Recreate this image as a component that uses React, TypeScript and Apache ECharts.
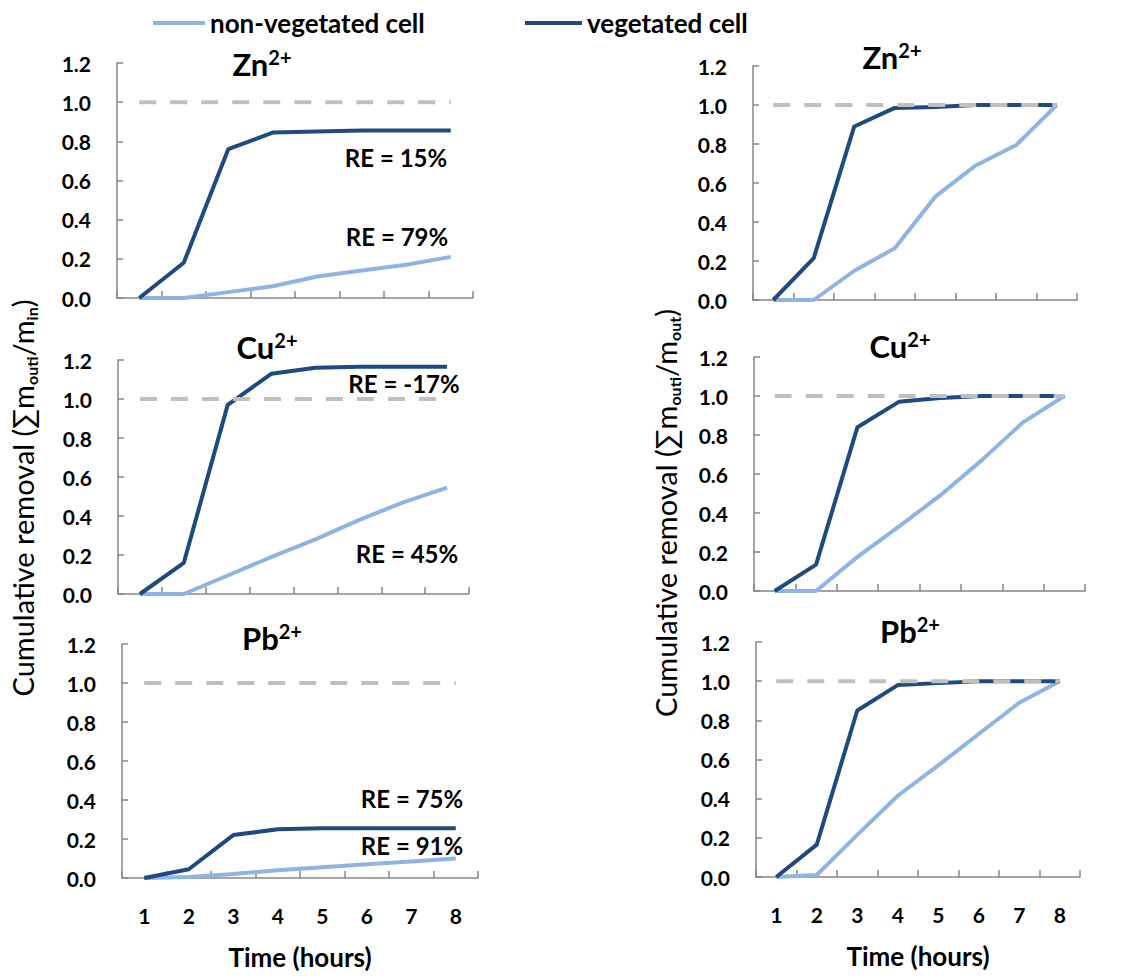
import React, { useEffect, useRef } from "react";
import * as echarts from "echarts";

const hours = ["1", "2", "3", "4", "5", "6", "7", "8"];
const yTicks = [0, 0.2, 0.4, 0.6, 0.8, 1.0, 1.2];

const leftZnNon = [0, 0, 0.03, 0.06, 0.11, 0.14, 0.17, 0.21];
const leftZnVeg = [0, 0.18, 0.76, 0.845, 0.85, 0.855, 0.855, 0.855];
const leftCuNon = [0, 0, 0.095, 0.19, 0.28, 0.38, 0.47, 0.545];
const leftCuVeg = [0, 0.16, 0.97, 1.13, 1.16, 1.165, 1.165, 1.165];
const leftPbNon = [0, 0.005, 0.02, 0.04, 0.055, 0.07, 0.085, 0.1];
const leftPbVeg = [0, 0.045, 0.22, 0.25, 0.255, 0.255, 0.255, 0.255];
const rightZnNon = [0, 0, 0.15, 0.265, 0.53, 0.69, 0.795, 1.0];
const rightZnVeg = [0, 0.215, 0.89, 0.985, 0.99, 1.0, 1.0, 1.0];
const rightCuNon = [0, 0, 0.175, 0.33, 0.49, 0.67, 0.865, 1.0];
const rightCuVeg = [0, 0.135, 0.84, 0.97, 0.99, 1.0, 1.0, 1.0];
const rightPbNon = [0, 0.01, 0.215, 0.415, 0.57, 0.73, 0.89, 1.0];
const rightPbVeg = [0, 0.165, 0.85, 0.98, 0.99, 1.0, 1.0, 1.0];
const reference = [1, 1, 1, 1, 1, 1, 1, 1];

const seriesNames = ["non-vegetated cell", "vegetated cell"];
const panelTitles = [
  ["Zn", "2+"], ["Cu", "2+"], ["Pb", "2+"],
  ["Zn", "2+"], ["Cu", "2+"], ["Pb", "2+"],
];
const reLabels = [
  "RE = 15%", "RE = 79%", "RE = -17%", "RE = 45%", "RE = 75%", "RE = 91%",
];
const xAxisTitle = "Time (hours)";

const FONT = "Lato";
const LIGHT = "#8DB4E2";
const DARK = "#1F4A80";
const REF = "#BFBFBF";
const AXIS = "#868686";

const panels = [
  { grid: { left: 117, top: 63, width: 356, height: 235 }, non: leftZnNon, veg: leftZnVeg, bottom: false },
  { grid: { left: 118, top: 360, width: 351, height: 234 }, non: leftCuNon, veg: leftCuVeg, bottom: false },
  { grid: { left: 122, top: 644, width: 356, height: 234 }, non: leftPbNon, veg: leftPbVeg, bottom: true },
  { grid: { left: 753, top: 66, width: 324, height: 234 }, non: rightZnNon, veg: rightZnVeg, bottom: false },
  { grid: { left: 754, top: 357, width: 331, height: 234 }, non: rightCuNon, veg: rightCuVeg, bottom: false },
  { grid: { left: 756, top: 642, width: 324, height: 235 }, non: rightPbNon, veg: rightPbVeg, bottom: true },
];

const titlePos = [
  [262, 64], [267, 347], [272, 638], [892, 57], [900, 346], [910, 631],
];
const rePos = [
  [396, 157], [397, 236], [404, 383], [407, 553], [412, 798], [412, 845],
];

export default function App() {
  const ref = useRef<HTMLDivElement>(null);
  useEffect(() => {
    document.body.style.margin = "0";
    const chart = echarts.init(ref.current!, null, { renderer: "svg" });

    const grids = panels.map((p) => ({ ...p.grid, containLabel: false }));
    const xAxes = panels.map((p, i) => ({
      type: "category",
      gridIndex: i,
      data: hours,
      boundaryGap: true,
      axisLine: { show: true, lineStyle: { color: AXIS, width: 1.5 } },
      axisTick: { show: true, inside: true, length: 7, alignWithLabel: false, lineStyle: { color: AXIS, width: 1.5 } },
      axisLabel: {
        show: p.bottom,
        margin: 27,
        fontFamily: FONT,
        fontWeight: "bold",
        fontSize: 21,
        color: "#000",
      },
      name: p.bottom ? xAxisTitle : "",
      nameLocation: "middle",
      nameGap: 66,
      nameTextStyle: { fontFamily: FONT, fontWeight: "bold", fontSize: 26, color: "#000" },
      splitLine: { show: false },
    }));
    const yAxes = panels.map((p, i) => ({
      type: "value",
      gridIndex: i,
      min: yTicks[0],
      max: yTicks[yTicks.length - 1],
      interval: 0.2,
      axisLine: { show: true, lineStyle: { color: AXIS, width: 1.5 } },
      axisTick: { show: true, inside: true, length: 6, lineStyle: { color: AXIS, width: 1.5 } },
      axisLabel: {
        margin: 26,
        fontFamily: FONT,
        fontWeight: "bold",
        fontSize: 21,
        color: "#000",
        formatter: (v: number) => v.toFixed(1),
      },
      splitLine: { show: false },
    }));
    const series: any[] = [];
    panels.forEach((p, i) => {
      series.push({
        name: seriesNames[0],
        type: "line",
        xAxisIndex: i,
        yAxisIndex: i,
        data: p.non,
        symbol: "none",
        color: LIGHT,
        lineStyle: { color: LIGHT, width: 4 },
      });
      series.push({
        name: seriesNames[1],
        type: "line",
        xAxisIndex: i,
        yAxisIndex: i,
        data: p.veg,
        symbol: "none",
        color: DARK,
        lineStyle: { color: DARK, width: 4 },
      });
      series.push({
        name: "reference",
        type: "line",
        xAxisIndex: i,
        yAxisIndex: i,
        data: reference,
        symbol: "none",
        color: REF,
        lineStyle: { color: REF, width: 4, type: [17, 14] },
      });
    });

    const graphic: any[] = [];
    panelTitles.forEach((t, i) => {
      graphic.push({
        type: "text",
        x: titlePos[i][0],
        y: titlePos[i][1],
        style: {
          text: `{a|${t[0]}}{s|${t[1]}}`,
          align: "center",
          verticalAlign: "middle",
          rich: {
            a: { fontFamily: FONT, fontWeight: "bold", fontSize: 31, lineHeight: 34, verticalAlign: "middle", fill: "#000" },
            s: { fontFamily: FONT, fontWeight: "bold", fontSize: 20, lineHeight: 20, verticalAlign: "top", fill: "#000" },
          },
        },
      });
    });
    reLabels.forEach((t, i) => {
      graphic.push({
        type: "text",
        x: rePos[i][0],
        y: rePos[i][1],
        style: {
          text: t,
          fontFamily: FONT,
          fontWeight: "bold",
          fontSize: 24,
          fill: "#000",
          align: "center",
          verticalAlign: "middle",
        },
      });
    });
    const yLabelRich = {
      a: { fontFamily: FONT, fontSize: 29, lineHeight: 34, verticalAlign: "middle", fill: "#000" },
      s: { fontFamily: FONT, fontWeight: "bold", fontSize: 16, lineHeight: 15, verticalAlign: "bottom", fill: "#000" },
    };
    graphic.push({
      type: "text",
      x: 22,
      y: 498,
      rotation: Math.PI / 2,
      style: {
        text: "{a|Cumulative removal (∑m}{s|outi}{a|/m}{s|in}{a|)}",
        align: "center",
        verticalAlign: "middle",
        rich: yLabelRich,
      },
    });
    graphic.push({
      type: "text",
      x: 665,
      y: 513,
      rotation: Math.PI / 2,
      style: {
        text: "{a|Cumulative removal (∑m}{s|outi}{a|/m}{s|out}{a|)}",
        align: "center",
        verticalAlign: "middle",
        rich: yLabelRich,
      },
    });

    chart.setOption({
      animation: false,
      backgroundColor: "#fff",
      grid: grids,
      xAxis: xAxes,
      yAxis: yAxes,
      legend: [
        {
          data: [seriesNames[0]],
          left: 148,
          top: 5,
          icon: "rect",
          itemWidth: 52,
          itemHeight: 4,
          itemGap: 0,
          textStyle: { fontFamily: FONT, fontWeight: "bold", fontSize: 26, color: "#000" },
        },
        {
          data: [seriesNames[1]],
          left: 520,
          top: 5,
          icon: "rect",
          itemWidth: 57,
          itemHeight: 4,
          itemGap: 0,
          textStyle: { fontFamily: FONT, fontWeight: "bold", fontSize: 26, color: "#000" },
        },
      ],
      series,
      graphic,
    });
    return () => chart.dispose();
  }, []);
  return <div ref={ref} style={{ width: 1135, height: 979 }} />;
}
